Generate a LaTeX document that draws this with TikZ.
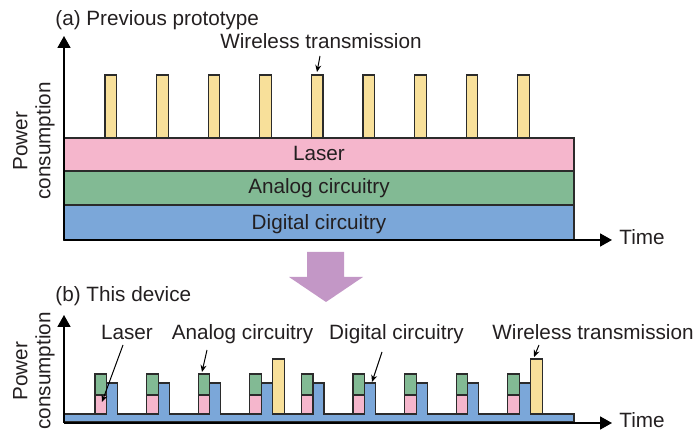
\documentclass[tikz,border=0pt]{standalone}
\usepackage{fontspec}
\setmainfont{Liberation Sans}
\usetikzlibrary{arrows.meta}
\definecolor{pinkc}{HTML}{F5B6CC}
\definecolor{greenc}{HTML}{82BA94}
\definecolor{bluec}{HTML}{7BA7D9}
\definecolor{yellowc}{HTML}{F8E09A}
\definecolor{purplec}{HTML}{C397C6}
\definecolor{linec}{HTML}{2B2B2B}
\definecolor{textc}{HTML}{231F20}
\begin{document}
\begin{tikzpicture}[x=0.5pt,y=-0.5pt,
  font=\fontsize{10.35}{12}\selectfont, text=textc,
  blk/.style={draw=linec, line width=0.6pt},
  axis/.style={draw=black, line width=0.9pt, -{Triangle[length=6pt,width=6.5pt]}},
  lbl/.style={anchor=base, inner sep=0pt},
  pointer/.style={draw=black, line width=0.5pt, -{Stealth[length=3.5pt,width=3pt]}},
  pclabel/.style={rotate=90, align=center, inner sep=0pt, font=\fontsize{10.35}{11.5}\selectfont}]
\useasboundingbox (0,0) rectangle (695,431);

% ---------- (a) previous prototype ----------
\draw[blk, fill=pinkc]  (64,138) rectangle (574,171);
\draw[blk, fill=greenc] (64,171) rectangle (574,205);
\draw[blk, fill=bluec]  (64,205) rectangle (574,240);
\foreach \k in {0,...,8}
  \draw[blk, fill=yellowc] ({105+51.6*\k},75) rectangle ({116.5+51.6*\k},138);

\coordinate (oa) at (64,240);
\coordinate (ya) at (64,36);
\coordinate (xa) at (612,240);
\draw[axis] (oa) -- (ya);
\draw[axis] (oa) -- (xa);

\node[lbl] (laserA)   at (319,161) {Laser};
\node[lbl] (analogA)  at (319,194) {Analog circuitry};
\node[lbl] (digitalA) at (319,230) {Digital circuitry};
\node[lbl, anchor=base west] (timeA) at (619,245) {Time};
\node[lbl, anchor=base west] (titleA) at (55,26) {(a) Previous prototype};
\node[lbl] (wirelessA) at (321,49) {Wireless transmission};
\node[pclabel] (pcA) at (34,141) {Power\\consumption};
\coordinate (wa1) at (320,56);
\coordinate (wa2) at (317,72);
\draw[pointer] (wa1) -- (wa2);

% ---------- big arrow ----------
\fill[purplec] (307,252) -- (344,252) -- (344,277) -- (363,277) -- (326,302)
  -- (289,277) -- (307,277) -- cycle;

% ---------- (b) this device ----------
\draw[blk, fill=bluec] (64,422) -- (64,414)
  \foreach \k in {0,...,8} { -- ({106.5+51.6*\k},414) -- ({106.5+51.6*\k},383)
     -- ({117.5+51.6*\k},383) -- ({117.5+51.6*\k},414) }
  -- (574,414) -- (574,422) -- cycle;
\foreach \k in {0,...,8} {
  \draw[blk, fill=pinkc]  ({95+51.6*\k},395) rectangle ({106.5+51.6*\k},414);
  \draw[blk, fill=greenc] ({95+51.6*\k},374) rectangle ({106.5+51.6*\k},395);
}
\foreach \k in {3,8}
  \draw[blk, fill=yellowc] ({117.5+51.6*\k},359) rectangle ({129.5+51.6*\k},414);

\coordinate (ob) at (64,423);
\coordinate (yb) at (64,315);
\coordinate (xb) at (612,423);
\draw[axis] (ob) -- (yb);
\draw[axis] (ob) -- (xb);

\node[lbl, anchor=base west] (titleB) at (55,302) {(b) This device};
\node[lbl, anchor=base west] (timeB) at (619,428) {Time};
\node[pclabel] (pcB) at (34,371) {Power\\consumption};
\node[lbl] (laserB)    at (127,340) {Laser};
\node[lbl] (analogB)   at (242.5,340) {Analog circuitry};
\node[lbl] (digitalB)  at (396.5,340) {Digital circuitry};
\node[lbl] (wirelessB) at (593,340) {Wireless transmission};

\coordinate (lb1) at (123,345); \coordinate (lb2) at (102,402);
\coordinate (ab1) at (207,350); \coordinate (ab2) at (202,372);
\coordinate (db1) at (382,352); \coordinate (db2) at (372,382);
\coordinate (wb1) at (539,345); \coordinate (wb2) at (534,357);
\draw[pointer] (lb1) -- (lb2);
\draw[pointer] (ab1) -- (ab2);
\draw[pointer] (db1) -- (db2);
\draw[pointer] (wb1) -- (wb2);
\end{tikzpicture}
\end{document}
